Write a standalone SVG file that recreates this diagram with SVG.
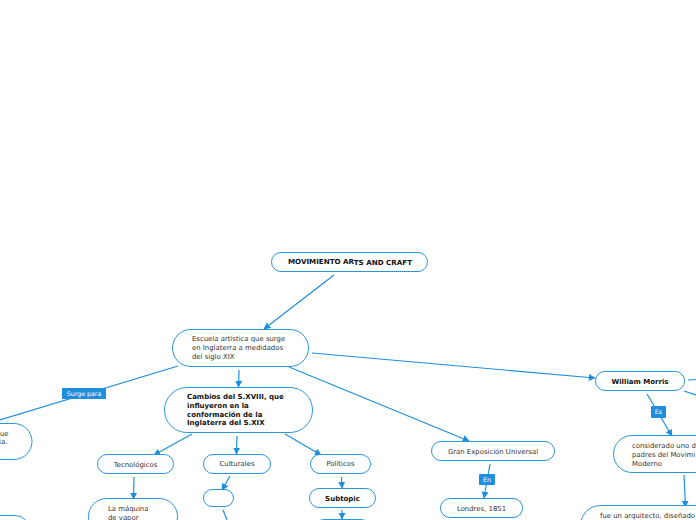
<svg xmlns="http://www.w3.org/2000/svg" width="696" height="520" viewBox="0 0 696 520">
<defs>
<marker id="ah" viewBox="0 0 10 10" refX="9" refY="5" markerWidth="7" markerHeight="7" markerUnits="userSpaceOnUse" orient="auto">
<path d="M0,0 L10,5 L0,10 z" fill="#1e8fdd"/>
</marker>
<style>
.n{fill:#fff;stroke:#2a96de;stroke-width:1}
.t{font-family:"DejaVu Sans",Verdana,sans-serif;font-size:6.9px;fill:#333}
.b{font-family:"DejaVu Sans",Verdana,sans-serif;font-size:7px;font-weight:bold;fill:#111}
.c{fill:none;stroke:#1e8fdd;stroke-width:1.2}
.lb{fill:#1e8fdd}
.lt{font-family:"DejaVu Sans",Verdana,sans-serif;font-size:6.3px;fill:#fff}
</style>
</defs>
<rect width="696" height="520" fill="#fff"/>
<g id="connectors">
<line class="c" x1="334" y1="275" x2="264" y2="329" marker-end="url(#ah)"/>
<line class="c" x1="239" y1="370" x2="238.5" y2="387" marker-end="url(#ah)"/>
<line class="c" x1="178" y1="366" x2="0" y2="420"/>
<line class="c" x1="289" y1="367" x2="469" y2="441" marker-end="url(#ah)"/>
<line class="c" x1="312" y1="353" x2="595" y2="378" marker-end="url(#ah)"/>
<line class="c" x1="192" y1="434" x2="154" y2="455" marker-end="url(#ah)"/>
<line class="c" x1="237" y1="436" x2="236.5" y2="454" marker-end="url(#ah)"/>
<line class="c" x1="285" y1="434" x2="321" y2="455" marker-end="url(#ah)"/>
<line class="c" x1="490" y1="464" x2="484" y2="498" marker-end="url(#ah)"/>
<line class="c" x1="647" y1="394" x2="672" y2="436" marker-end="url(#ah)"/>
<line class="c" x1="688" y1="380" x2="696" y2="379.5"/>
<line class="c" x1="684" y1="391" x2="696" y2="395"/>
<line class="c" x1="684" y1="475" x2="685.5" y2="507" marker-end="url(#ah)"/>
<line class="c" x1="134" y1="477" x2="133.5" y2="499" marker-end="url(#ah)"/>
<line class="c" x1="230" y1="476" x2="222" y2="490" marker-end="url(#ah)"/>
<line class="c" x1="223" y1="510" x2="227" y2="520"/>
<line class="c" x1="341.5" y1="477" x2="342" y2="488" marker-end="url(#ah)"/>
<line class="c" x1="342" y1="510" x2="342" y2="519" marker-end="url(#ah)"/>
<rect class="lb" x="62" y="388" width="44" height="11" rx="1"/>
<text class="lt" x="84" y="395.8" text-anchor="middle">Surge para</text>
<rect class="lb" x="479" y="474" width="16" height="11" rx="1"/>
<text class="lt" x="487" y="481.8" text-anchor="middle">En</text>
<rect class="lb" x="651" y="406" width="15" height="12" rx="1"/>
<text class="lt" x="658.5" y="414.2" text-anchor="middle">Es</text>
</g>
<g id="root">
<rect class="n" x="271.5" y="252.5" width="156" height="19" rx="9.5"/>
<text class="b" x="288" y="264" textLength="124" lengthAdjust="spacingAndGlyphs">MOVIMIENTO AR<tspan dy="0.8">TS AND CRAFT</tspan></text>
</g>
<g id="escuela">
<rect class="n" x="172.5" y="329.5" width="136" height="37" rx="18.5"/>
<text class="t" x="192" y="341">Escuela artística que surge</text>
<text class="t" x="192" y="350">en Inglaterra a medidados</text>
<text class="t" x="192" y="359">del siglo XIX</text>
</g>
<g id="cambios">
<rect class="n" x="164.5" y="387.5" width="148" height="45" rx="22.5"/>
<text class="b" x="187" y="399">Cambios del S.XVIII, que</text>
<text class="b" x="187" y="408">influyeron en la</text>
<text class="b" x="187" y="416.5">conformación de la</text>
<text class="b" x="187" y="425">Inglaterra del S.XIX</text>
</g>
<g id="surge-node">
<rect class="n" x="-40" y="423.5" width="72" height="36" rx="18"/>
<text class="t" x="0" y="436">ue</text>
<text class="t" x="-1" y="444">ia.</text>
</g>
<g id="bottom-left-node">
<rect class="n" x="-40" y="515.5" width="70" height="30" rx="15"/>
</g>
<g id="tecnologicos">
<rect class="n" x="97.5" y="454.5" width="76" height="19" rx="9.5"/>
<text class="t" x="135.5" y="466.5" text-anchor="middle">Tecnológicos</text>
</g>
<g id="culturales">
<rect class="n" x="203.5" y="454.5" width="67" height="19" rx="9.5"/>
<text class="t" x="237" y="466" text-anchor="middle">Culturales</text>
</g>
<g id="politicos">
<rect class="n" x="310.5" y="454.5" width="60" height="19" rx="9.5"/>
<text class="t" x="340.5" y="466" text-anchor="middle">Políticos</text>
</g>
<g id="gran-exposicion">
<rect class="n" x="431.5" y="441.5" width="123" height="19" rx="9.5"/>
<text class="t" x="493" y="453.5" text-anchor="middle">Gran Exposición Universal</text>
</g>
<g id="londres">
<rect class="n" x="440.5" y="498.5" width="82" height="19" rx="9.5"/>
<text class="t" x="481.5" y="510.5" text-anchor="middle">Londres, 1851</text>
</g>
<g id="william-morris">
<rect class="n" x="595.5" y="371.5" width="89" height="19" rx="9.5"/>
<text class="b" x="640" y="383.5" text-anchor="middle">William Morris</text>
</g>
<g id="considerado">
<rect class="n" x="613.5" y="435.5" width="110" height="37" rx="18.5"/>
<text class="t" x="632" y="448">considerado uno d</text>
<text class="t" x="632" y="457">padres del Movimi</text>
<text class="t" x="632" y="466">Moderno</text>
</g>
<g id="arquitecto">
<rect class="n" x="580.5" y="505.5" width="150" height="40" rx="20"/>
<text class="t" x="600" y="518">fue un arquitecto, diseñado</text>
</g>
<g id="maquina">
<rect class="n" x="88.5" y="498.5" width="89" height="36" rx="18"/>
<text class="t" x="108" y="511">La máquina</text>
<text class="t" x="108" y="519.5">de vapor</text>
</g>
<g id="empty-node">
<rect class="n" x="203.5" y="489.5" width="30" height="17" rx="8.5"/>
</g>
<g id="subtopic">
<rect class="n" x="309.5" y="488.5" width="66" height="19" rx="9.5"/>
<text class="b" x="342.5" y="500.5" text-anchor="middle">Subtopic</text>
</g>
<g id="subtopic-child">
<rect class="n" x="314.5" y="519.5" width="56" height="19" rx="9.5"/>
</g>
</svg>
